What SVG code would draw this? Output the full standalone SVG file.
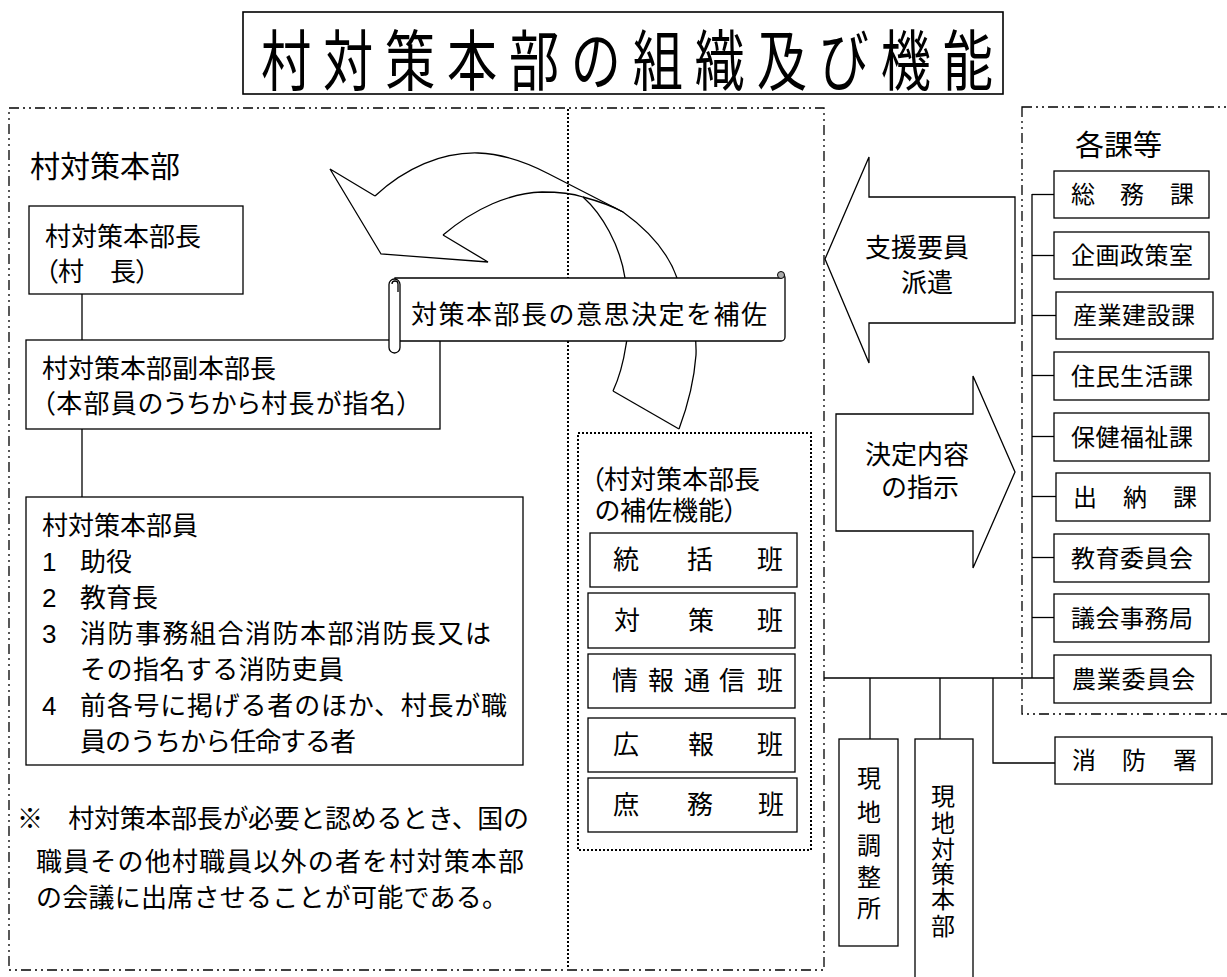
<svg xmlns="http://www.w3.org/2000/svg" width="1227" height="977" viewBox="0 0 1227 977">
<style>
text { font-family: "Liberation Sans", "Noto Sans CJK JP", sans-serif; fill: #000; }
.p { font-feature-settings: "palt"; }
.box { fill: #fff; stroke: #000; stroke-width: 1.3; }
.ln { fill: none; stroke: #000; stroke-width: 1.3; }
.dd { fill: none; stroke: #000; stroke-width: 1.3; stroke-dasharray: 10 4 2 4 2 4; }
.dot { fill: none; stroke: #000; stroke-width: 2; stroke-dasharray: 2 2; }
.t26 { font-size: 26px; }
.t24 { font-size: 24px; }
.c { dominant-baseline: central; }
</style>
<rect width="1227" height="977" fill="#fff"/>

<g id="title">
  <rect x="243" y="12" width="760" height="82" fill="#fff" stroke="#000" stroke-width="1.6"/>
  <text transform="translate(261,85) scale(0.76,1)" x="0" y="0" font-size="66" textLength="963" lengthAdjust="spacing">村対策本部の組織及び機能</text>
</g>

<g id="frames">
  <rect class="dd" x="9" y="108" width="815" height="862"/>
  <line class="dot" x1="568" y1="109" x2="568" y2="969"/>
  <rect class="dd" x="1022" y="107" width="230" height="607"/>
</g>

<g id="connectors">
  <line class="ln" x1="82" y1="294" x2="82" y2="340"/>
  <line class="ln" x1="82" y1="429" x2="82" y2="497"/>
  <line class="ln" x1="1032" y1="194" x2="1032" y2="678"/>
  <line class="ln" x1="1032" y1="194.5" x2="1055" y2="194.5"/>
  <line class="ln" x1="1032" y1="255.5" x2="1055" y2="255.5"/>
  <line class="ln" x1="1032" y1="315.5" x2="1056" y2="315.5"/>
  <line class="ln" x1="1032" y1="375.5" x2="1055" y2="375.5"/>
  <line class="ln" x1="1032" y1="436.5" x2="1055" y2="436.5"/>
  <line class="ln" x1="1032" y1="496.5" x2="1056" y2="496.5"/>
  <line class="ln" x1="1032" y1="557.5" x2="1055" y2="557.5"/>
  <line class="ln" x1="1032" y1="617.5" x2="1055" y2="617.5"/>
  <line class="ln" x1="824" y1="678" x2="1055" y2="678"/>
  <line class="ln" x1="870" y1="678" x2="870" y2="739"/>
  <line class="ln" x1="940" y1="678" x2="940" y2="739"/>
  <path class="ln" d="M993,678 V763 H1055"/>
</g>

<g id="label-hq">
  <text x="30" y="177" font-size="30">村対策本部</text>
</g>

<g id="node-chief">
  <rect class="box" x="29" y="206" width="214" height="88"/>
  <text class="t26 p" x="45" y="246">村対策本部長</text>
  <text class="t26 p" x="45" y="281">（村　長）</text>
</g>

<g id="node-vice">
  <rect class="box" x="26" y="340" width="414" height="89"/>
  <text class="t26 p" x="42" y="378">村対策本部副本部長</text>
  <text class="t26 p" x="42" y="413" textLength="368" lengthAdjust="spacing">（本部員のうちから村長が指名）</text>
</g>

<g id="node-members">
  <rect class="box" x="26" y="497" width="497" height="268"/>
  <text class="t26" x="42" y="535">村対策本部員</text>
  <text class="t26" x="42" y="571">1</text><text class="t26" x="80" y="571">助役</text>
  <text class="t26" x="42" y="607">2</text><text class="t26" x="80" y="607">教育長</text>
  <text class="t26" x="42" y="643">3</text><text class="t26" x="80" y="643" textLength="411" lengthAdjust="spacing">消防事務組合消防本部消防長又は</text>
  <text class="t26" x="80" y="679" textLength="264" lengthAdjust="spacing">その指名する消防吏員</text>
  <text class="t26" x="42" y="715">4</text><text class="t26" x="80" y="715" textLength="427" lengthAdjust="spacing">前各号に掲げる者のほか、村長が職</text>
  <text class="t26" x="80" y="751" textLength="276" lengthAdjust="spacing">員のうちから任命する者</text>
</g>

<g id="note">
  <text class="t26" x="17" y="828" textLength="512" lengthAdjust="spacing">※　村対策本部長が必要と認めるとき、国の</text>
  <text class="t26" x="36" y="871" textLength="488" lengthAdjust="spacing">職員その他村職員以外の者を村対策本部</text>
  <text class="t26" x="36" y="907" textLength="472" lengthAdjust="spacing">の会議に出席させることが可能である。</text>
</g>

<g id="curved-arrow">
  <path class="ln" d="M375,196 L330,169 L381,254 L488,262 L443,235"/>
  <path class="ln" d="M375,196 C405,168 442,152 478,153 C505,154 528,163 549,174 L623,212"/>
  <path class="ln" d="M443,235 C475,208 510,193 542,192 C560,192 574,194 583,197 C602,214 620,245 625,278 C629,305 629,330 626,345 C623,365 619,378 613,391"/>
  <path class="ln" d="M583,197 C598,201 612,206 623,212 C648,230 668,252 677,278 C690,305 697,330 696,355 C694,382 688,405 679,429"/>
  <line class="ln" x1="613" y1="391" x2="679" y2="429"/>
</g>

<g id="scroll-note">
  <path class="box" d="M395,278 H780 V274 A4,4 0 0 1 785,278 V337 A4,4 0 0 1 781,341 H395 Z"/>
  <circle cx="781" cy="275" r="3.5" fill="#aaa" stroke="#000" stroke-width="1"/>
  <rect class="box" x="389" y="279" width="11" height="74" rx="5.5"/>
  <path class="ln" d="M392,284 A3,3 0 1 1 398,284 V292"/>
  <text class="t26" x="411" y="324" textLength="356" lengthAdjust="spacing">対策本部長の意思決定を補佐</text>
</g>

<g id="arrow-support">
  <polygon class="box" points="825,259 869,157 869,197 1015,197 1015,323 869,323 869,363"/>
  <text class="t26" x="917" y="257" text-anchor="middle">支援要員</text>
  <text class="t26" x="927" y="292" text-anchor="middle">派遣</text>
</g>

<g id="arrow-instruct">
  <polygon class="box" points="836,414 973,414 973,376 1015,472 973,568 973,531 836,531"/>
  <text class="t26" x="917" y="464" text-anchor="middle">決定内容</text>
  <text class="t26" x="920" y="497" text-anchor="middle">の指示</text>
</g>

<g id="group-support">
  <rect class="dot" x="578" y="433" width="233" height="417"/>
  <text class="t26 p" x="591" y="489">（村対策本部長</text>
  <text class="t26 p" x="595" y="520">の補佐機能）</text>
</g>
<g id="node-toukatsu">
  <rect class="box" x="590" y="533" width="207" height="54"/>
  <text class="t26 c" x="613 687 757" y="560">統括班</text>
</g>
<g id="node-taisaku">
  <rect class="box" x="588" y="593" width="207" height="55"/>
  <text class="t26 c" x="614 688 757" y="620.5">対策班</text>
</g>
<g id="node-jouhou">
  <rect class="box" x="588" y="654" width="207" height="54"/>
  <text class="t26 c" x="612 648 684 719 757" y="681">情報通信班</text>
</g>
<g id="node-kouhou">
  <rect class="box" x="588" y="718" width="207" height="54"/>
  <text class="t26 c" x="613 688 757" y="745">広報班</text>
</g>
<g id="node-shomu">
  <rect class="box" x="588" y="778" width="209" height="54"/>
  <text class="t26 c" x="613 687 758" y="805">庶務班</text>
</g>

<g id="label-depts">
  <text x="1075" y="156" font-size="29">各課等</text>
</g>
<g id="node-soumu">
  <rect class="box" x="1054" y="171" width="155" height="47"/>
  <text class="t24 c" x="1071 1120 1170" y="194.5">総務課</text>
</g>
<g id="node-kikaku">
  <rect class="box" x="1054" y="232" width="155" height="47"/>
  <text class="t24 c" x="1071" y="255.5" letter-spacing="0.5">企画政策室</text>
</g>
<g id="node-sangyou">
  <rect class="box" x="1056" y="292" width="157" height="47"/>
  <text class="t24 c" x="1073" y="315.5" letter-spacing="0.5">産業建設課</text>
</g>
<g id="node-juumin">
  <rect class="box" x="1054" y="352" width="155" height="48"/>
  <text class="t24 c" x="1071" y="376" letter-spacing="0.5">住民生活課</text>
</g>
<g id="node-hoken">
  <rect class="box" x="1054" y="413" width="155" height="48"/>
  <text class="t24 c" x="1071" y="437" letter-spacing="0.5">保健福祉課</text>
</g>
<g id="node-suitou">
  <rect class="box" x="1056" y="473" width="154" height="48"/>
  <text class="t24 c" x="1073 1123 1173" y="497">出納課</text>
</g>
<g id="node-kyouiku">
  <rect class="box" x="1054" y="534" width="155" height="48"/>
  <text class="t24 c" x="1071" y="558" letter-spacing="0.5">教育委員会</text>
</g>
<g id="node-gikai">
  <rect class="box" x="1054" y="594" width="155" height="48"/>
  <text class="t24 c" x="1071" y="618" letter-spacing="0.5">議会事務局</text>
</g>
<g id="node-nougyou">
  <rect class="box" x="1054" y="655" width="157" height="48"/>
  <text class="t24 c" x="1072" y="679" letter-spacing="0.8">農業委員会</text>
</g>
<g id="node-shoubou">
  <rect class="box" x="1055" y="737" width="157" height="47"/>
  <text class="t24 c" x="1072 1122 1173" y="760.5">消防署</text>
</g>

<g id="node-chousei">
  <rect class="box" x="839" y="739" width="59" height="207"/>
  <text class="t24 c" text-anchor="middle" x="869 869 869 869 869" y="778 812 845 877 908">現地調整所</text>
</g>
<g id="node-genchi">
  <rect class="box" x="915" y="739" width="58" height="250"/>
  <text class="t24 c" text-anchor="middle" x="943 943 943 943 943 943" y="796 823 849 874 899 926">現地対策本部</text>
</g>
</svg>
